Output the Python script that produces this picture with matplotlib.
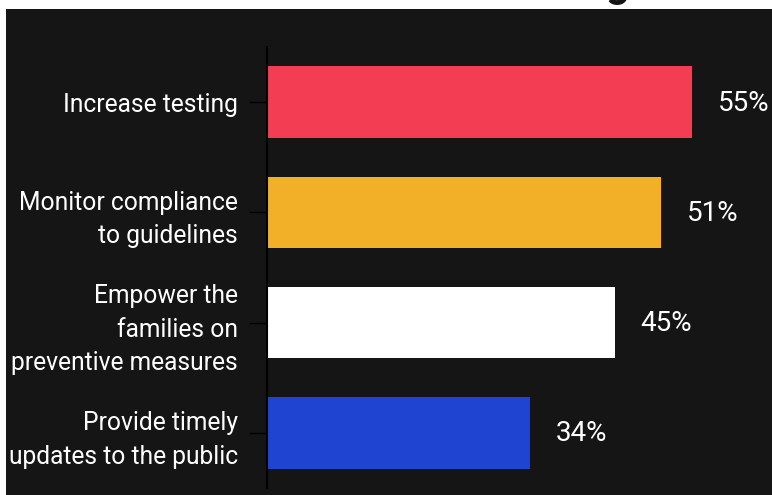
import matplotlib.pyplot as plt
from matplotlib.patches import Rectangle

categories = ["Increase testing",
              "Monitor compliance\nto guidelines",
              "Empower the\nfamilies on\npreventive measures",
              "Provide timely\nupdates to the public"]
values = [55, 51, 45, 34]
colors = ["#F23D52", "#F2B029", "#FFFFFF", "#1F44D2"]

plt.rcParams['font.family'] = ['Roboto', 'DejaVu Sans']

fig = plt.figure(figsize=(7.72, 4.95), dpi=100, facecolor='white')
# dark panel behind the chart
fig.patches.append(Rectangle((6 / 772, 0), 1, 1 - 9 / 495, transform=fig.transFigure,
                             facecolor='#151515', edgecolor='none', zorder=-5))
# cut-off title glyph at the top edge
fig.text(0.80, 1.008, "g", fontsize=30, fontweight='bold', color='#151515',
         ha='center', va='baseline')

ax = fig.add_axes([267 / 772, 7 / 495, 1 - 267 / 772, 441 / 495])
ax.set_facecolor('#151515')

y = list(range(len(categories)))
ax.barh(y, values, height=0.65, color=colors)
ax.set_ylim(3.5, -0.5)
ax.set_xlim(0, (772 - 268) / 7.71)

for yi, v in zip(y, values):
    ax.annotate(f"{v}%", (v, yi), xytext=(26, -1), textcoords='offset pixels',
                ha='left', va='center', color='white', fontsize=20)

ax.set_yticks(y)
ax.set_yticklabels(categories, color='white', fontsize=17.7, linespacing=1.5)
ax.tick_params(axis='y', length=13, width=1, color='black', pad=8)
ax.set_xticks([])
for s in ['top', 'right', 'bottom']:
    ax.spines[s].set_visible(False)
ax.spines['left'].set_color('black')
ax.spines['left'].set_linewidth(1.5)

fig.savefig("out.png", dpi=100, facecolor='white')
